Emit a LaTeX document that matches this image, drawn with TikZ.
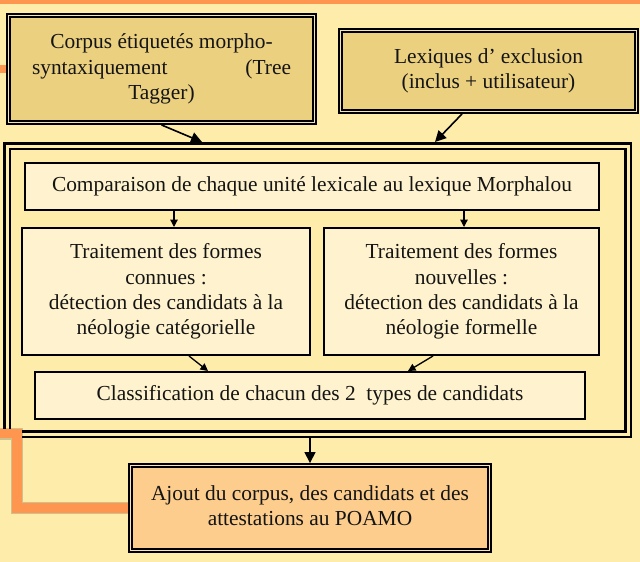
\documentclass[tikz,border=0pt]{standalone}
\usepackage{fontspec}
\setmainfont{Liberation Serif}
\usetikzlibrary{arrows.meta,calc,backgrounds}
\definecolor{bg}{HTML}{FDECAA}
\definecolor{tanfill}{HTML}{EBD080}
\definecolor{cream}{HTML}{FEF3CE}
\definecolor{peach}{HTML}{FCCD8C}
\definecolor{orng}{HTML}{FF9650}
\begin{document}
\begin{tikzpicture}[x=1pt,y=-1pt,
  txt/.style={font=\fontsize{21.4}{25.3}\selectfont, align=center, text=black!92},
  dbox/.style={txt, draw=black, line width=2.2pt, double=#1!60!white, double distance=1pt, inner sep=0pt, outer sep=2.7pt},
  bigbox/.style={draw=black, line width=2.5pt, double=bg, double distance=3pt, inner sep=0pt, outer sep=4pt},
  sbox/.style={txt, draw=black, line width=2pt, fill=cream, inner sep=0pt, outer sep=1pt},
  bigarrow/.style={line width=1.6pt, -{Triangle[length=11pt,width=11pt]}},
  smallarrow/.style={line width=1.3pt, -{Triangle[length=7.5pt,width=7.5pt]}},
  orangeline/.style={orng, line width=9.5pt},
  shadowline/.style={black, opacity=0.18, line width=12pt},
]
\useasboundingbox (0,0) rectangle (640,562);

% big outer box
\node[bigbox, minimum width=621pt, minimum height=288pt] (big) at (317.5,290) {};

% top boxes
\node[dbox=tanfill, fill=tanfill, minimum width=305.5pt, minimum height=106.5pt] (corpus) at (161.5,69)
  {Corpus étiquetés morpho-\\\makebox[259pt]{syntaxiquement\hfill(Tree}\\Tagger)};
\node[dbox=tanfill, fill=tanfill, minimum width=295.5pt, minimum height=80.5pt] (lex) at (488.5,71)
  {Lexiques d’ exclusion\\(inclus + utilisateur)};

% inner boxes
\node[sbox, minimum width=574pt, minimum height=47pt] (comp) at (312,186.5)
  {Comparaison de chaque unité lexicale au lexique Morphalou};
\node[sbox, minimum width=288pt, minimum height=127pt] (connues) at (166,291.5)
  {Traitement des formes\\connues :\\détection des candidats à la\\néologie catégorielle};
\node[sbox, minimum width=275pt, minimum height=127pt] (nouv) at (461.5,291.5)
  {Traitement des formes\\nouvelles :\\détection des candidats à la\\néologie formelle};
\node[sbox, minimum width=550pt, minimum height=47pt] (classif) at (310,395.5)
  {Classification de chacun des 2\ \ types de candidats};

% bottom box
\node[dbox=peach, fill=peach, minimum width=358.5pt, minimum height=84.5pt] (ajout) at (310,508)
  {\raisebox{2pt}{\begin{tabular}{@{}c@{}}Ajout du corpus, des candidats et des\\attestations au POAMO\end{tabular}}};

% connectors
\draw[bigarrow] (corpus.south) -- ([xshift=-115.5pt]big.north);
\draw[bigarrow] ([xshift=-26.5pt]lex.south) -- ([xshift=117.5pt]big.north);
\draw[smallarrow] ([xshift=-138pt]comp.south) -- ([xshift=-138pt]comp.south |- connues.north);
\draw[smallarrow] ([xshift=152pt]comp.south) -- ([xshift=152pt]comp.south |- nouv.north);
\draw[smallarrow] ([xshift=23pt]connues.south) -- ([xshift=-102pt]classif.north);
\draw[smallarrow] ([xshift=-28.5pt]nouv.south) -- ([xshift=98pt]classif.north);
\draw[bigarrow] (ajout.north |- big.south) -- (ajout.north);

% orange decorative lines
\coordinate (oTop) at (0,69);
\coordinate (oBot) at (0,433.5);
\coordinate (oCorner1) at (17,433.5);
\coordinate (oCorner2) at (17,508);
\begin{scope}[on background layer]
  \fill[bg] (0,0) rectangle (640,562);
  \fill[orng] (0,0) rectangle (640,3.5);
  \draw[orng, line width=8pt] (oTop) -- (corpus.west);
\end{scope}
\draw[shadowline, shift={(2.5,2.5)}] (oBot) -- (oCorner1) -- (oCorner2) -- (ajout.west);
\draw[orangeline] (oBot) -- (oCorner1) -- (oCorner2) -- (ajout.west);
\end{tikzpicture}
\end{document}
